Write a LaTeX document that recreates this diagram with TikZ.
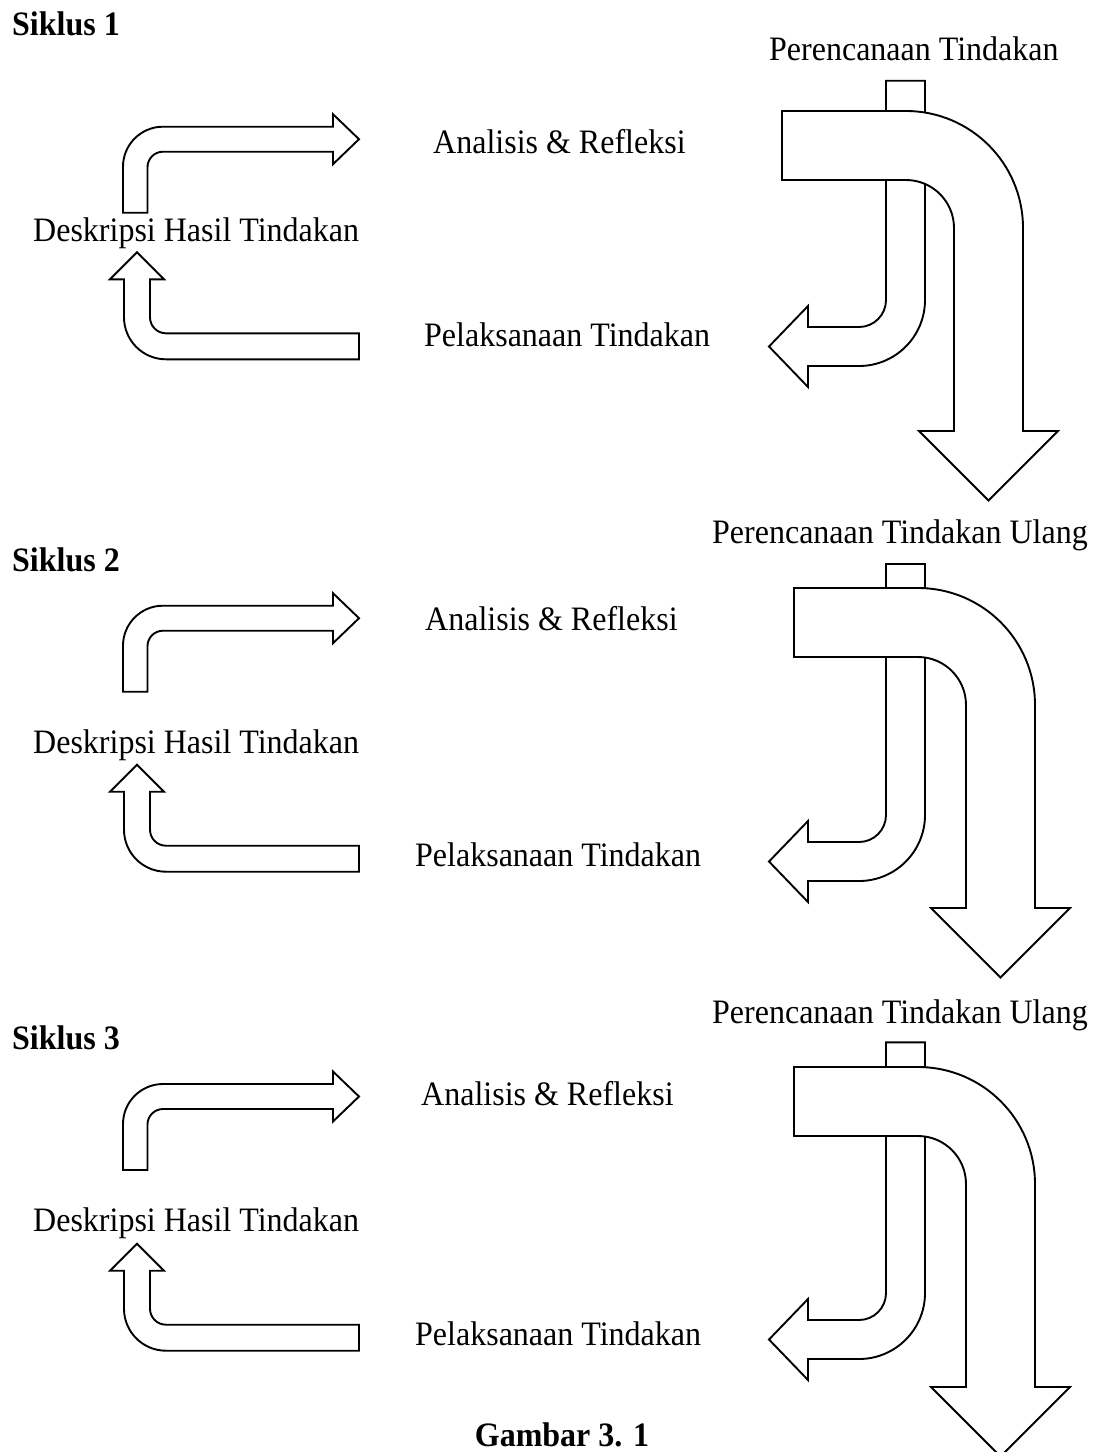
\documentclass[tikz,border=0pt]{standalone}
\usepackage{graphicx}
\usepackage{fontspec}
\setmainfont{Liberation Serif}
\newcommand\tx[1]{\scalebox{1}[1.07]{#1}}
\newcommand\arrUR[1]{%
  \draw[shp] (123,{-(#1+86)}) -- (123,{-(#1+40)}) arc[start angle=180,end angle=90,radius=40]
    -- (333,{-#1}) -- (333,{-(#1-12.5)}) -- (359,{-(#1+12.5)}) -- (333,{-(#1+37.5)})
    -- (333,{-(#1+25)}) -- (163,{-(#1+25)}) arc[start angle=90,end angle=180,radius=15.5]
    -- (147.5,{-(#1+86)}) -- cycle;}
\newcommand\arrLU[1]{%
  \draw[shp] (359,{-#1}) -- (166,{-#1}) arc[start angle=270,end angle=180,radius=42]
    -- (124,{-(#1-80)}) -- (110,{-(#1-80)}) -- (137,{-(#1-107)}) -- (164,{-(#1-80)})
    -- (150,{-(#1-80)}) -- (150,{-(#1-42)}) arc[start angle=180,end angle=270,radius=16]
    -- (359,{-(#1-26)}) -- cycle;}
\newcommand\arrBig[4]{%
  \draw[shp] (#1,{-#2}) -- (#3,{-#2}) arc[start angle=90,end angle=0,radius=117]
    -- ({#3+117},{-#4}) -- ({#3+152},{-#4}) -- ({#3+82.5},{-(#4+69.5)})
    -- ({#3+13},{-#4}) -- ({#3+48},{-#4}) -- ({#3+48},{-(#2+117)})
    arc[start angle=0,end angle=90,radius=48] -- (#1,{-(#2+69)}) -- cycle;}
\newcommand\arrThin[2]{%
  \draw[shp] (886,{-#1}) -- (925,{-#1}) -- (925,{-#2}) arc[start angle=0,end angle=-90,radius=66]
    -- (808,{-(#2+66)}) -- (808,{-(#2+87)}) -- (769,{-(#2+46.5)}) -- (808,{-(#2+6)})
    -- (808,{-(#2+27)}) -- (859,{-(#2+27)}) arc[start angle=-90,end angle=0,radius=27] -- cycle;}
\begin{document}
\begin{tikzpicture}[x=1pt,y=1pt,
  shp/.style={draw=black, line width=1.9pt, fill=white, line join=miter},
  lbl/.style={inner sep=0pt, anchor=base west, font=\fontsize{32}{38}\selectfont},
  ttl/.style={inner sep=0pt, anchor=base west, font=\fontsize{32}{38}\selectfont\bfseries}]
\useasboundingbox[fill=white] (0,0) rectangle (1094,-1452);

% ---------- Siklus 1 ----------
\node[ttl] (s1) at (12,-35) {\tx{Siklus 1}};
\node[lbl] (pr1) at (769,-60) {\tx{Perencanaan Tindakan}};
\node[lbl] (an1) at (433,-153) {\tx{Analisis \& Refleksi}};
\node[lbl] (de1) at (33,-241) {\tx{Deskripsi Hasil Tindakan}};
\node[lbl] (pe1) at (424,-346) {\tx{Pelaksanaan Tindakan}};
\arrUR{126.7}
\arrLU{359.3}
\arrThin{80.7}{300}
\arrBig{782}{111}{906}{431}

% ---------- Siklus 2 ----------
\node[lbl] (pr2) at (712,-543) {\tx{Perencanaan Tindakan Ulang}};
\node[ttl] (s2) at (12,-571) {\tx{Siklus 2}};
\node[lbl] (an2) at (425,-630) {\tx{Analisis \& Refleksi}};
\node[lbl] (de2) at (33,-753) {\tx{Deskripsi Hasil Tindakan}};
\node[lbl] (pe2) at (415,-866) {\tx{Pelaksanaan Tindakan}};
\arrUR{605.7}
\arrLU{871.7}
\arrThin{564}{815}
\arrBig{794}{588}{918}{908}

% ---------- Siklus 3 ----------
\node[lbl] (pr3) at (712,-1023) {\tx{Perencanaan Tindakan Ulang}};
\node[ttl] (s3) at (12,-1049) {\tx{Siklus 3}};
\node[lbl] (an3) at (421,-1105) {\tx{Analisis \& Refleksi}};
\node[lbl] (de3) at (33,-1231) {\tx{Deskripsi Hasil Tindakan}};
\node[lbl] (pe3) at (415,-1345) {\tx{Pelaksanaan Tindakan}};
\arrUR{1084}
\arrLU{1350.7}
\arrThin{1042.3}{1293}
\arrBig{794}{1067}{918}{1387}

\node[inner sep=0pt, anchor=base, font=\fontsize{32}{38}\selectfont\bfseries] (gb) at (562,-1446) {\tx{Gambar 3. 1}};
\end{tikzpicture}
\end{document}
